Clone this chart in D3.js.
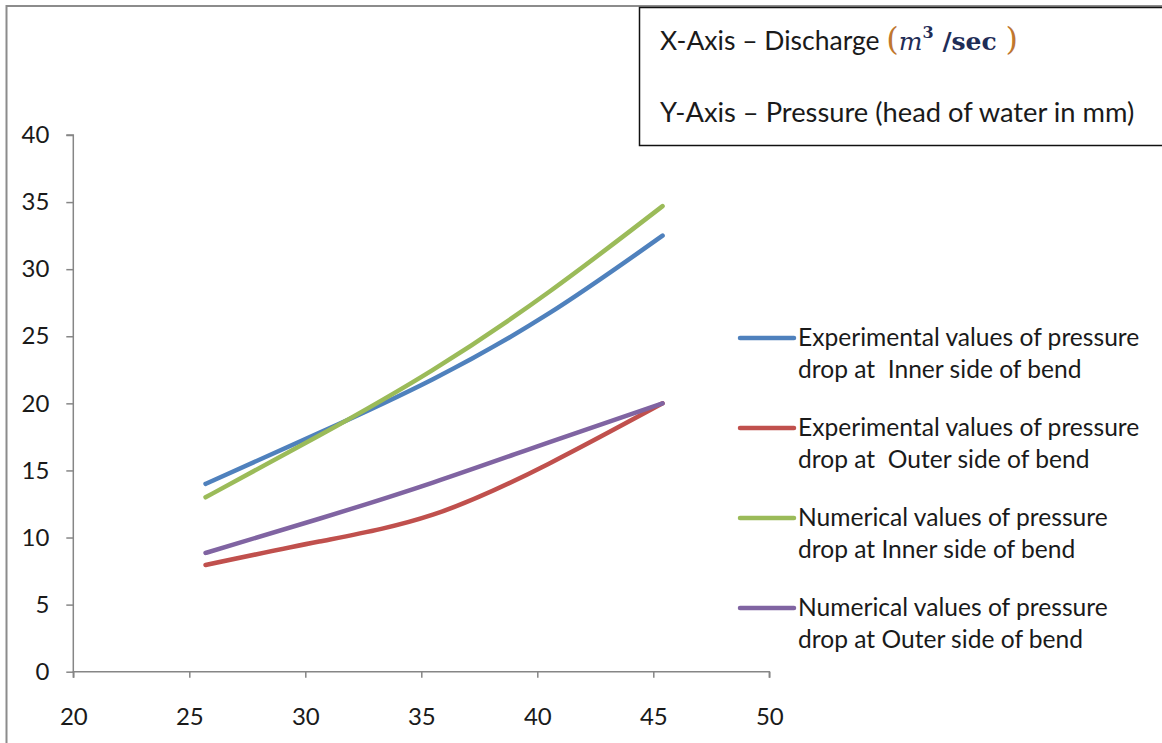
<!DOCTYPE html>
<html>
<head>
<meta charset="utf-8">
<script src="https://cdn.jsdelivr.net/npm/d3@7"></script>
<style>
  html, body { margin: 0; padding: 0; background: #fff; }
  svg { display: block; }
  text { font-family: "Lato", "Open Sans", sans-serif; fill: #1a1a1a; }
</style>
</head>
<body>
<svg id="chart" width="1162" height="743"></svg>
<script>
// Discharge values (m^3/sec) at which pressure was recorded
const discharge = [25.7, 30.6, 35.5, 40.5, 45.4];

// Pressure (head of water in mm) for each series
const expInner = [14.0, 17.8, 21.8, 26.7, 32.5];
const expOuter = [7.95, 9.7, 11.7, 15.5, 20.0];
const numInner = [13.0, 17.6, 22.5, 28.3, 34.7];
const numOuter = [8.85, 11.4, 14.1, 17.1, 20.0];

const seriesNames = [
  ["Experimental values of pressure", "drop at  Inner side of bend"],
  ["Experimental values of pressure", "drop at  Outer side of bend"],
  ["Numerical values of pressure", "drop at Inner side of bend"],
  ["Numerical values of pressure", "drop at Outer side of bend"]
];
const seriesColors = ["#4F81BD", "#C0504D", "#9BBB59", "#8064A2"];

const xTicks = [20, 25, 30, 35, 40, 45, 50];
const yTicks = [0, 5, 10, 15, 20, 25, 30, 35, 40];

const series = [expInner, expOuter, numInner, numOuter].map((vals, i) => ({
  name: seriesNames[i],
  color: seriesColors[i],
  points: vals.map((v, j) => ({ x: discharge[j], y: v }))
}));

const svg = d3.select("#chart");

// Outer frame of the figure
svg.append("rect")
  .attr("x", 6.5).attr("y", 6).attr("width", 1200).attr("height", 800)
  .attr("fill", "none").attr("stroke", "#8c8c8c").attr("stroke-width", 2);

const x = d3.scaleLinear().domain([20, 50]).range([73.3, 769.3]);
const y = d3.scaleLinear().domain([0, 40]).range([671.7, 135]);

const axisColor = "#868686";

// Y axis
const yAxis = svg.append("g")
  .attr("transform", `translate(${x(20)},0)`)
  .call(d3.axisLeft(y).tickValues(yTicks).tickSize(7).tickPadding(17).tickFormat(d3.format("d")));
// X axis
const xAxis = svg.append("g")
  .attr("transform", `translate(0,${y(0)})`)
  .call(d3.axisBottom(x).tickValues(xTicks).tickSize(6).tickPadding(30).tickFormat(d3.format("d")));

[yAxis, xAxis].forEach(g => {
  g.select(".domain").attr("stroke", axisColor).attr("stroke-width", 1.5);
  g.selectAll(".tick line").attr("stroke", axisColor).attr("stroke-width", 1.5);
  g.selectAll(".tick text")
    .attr("font-family", "Lato, 'Open Sans', sans-serif")
    .attr("font-size", 24).attr("fill", "#1a1a1a");
});
// Axis domain without outer end caps
yAxis.select(".domain").attr("d", `M-7,${y(40)}H0V${y(0)}`);
xAxis.select(".domain").attr("d", `M${x(20)},6V0H${x(50)}V6`);

// Smoothed series lines
const line = d3.line()
  .x(d => x(d.x)).y(d => y(d.y))
  .curve(d3.curveNatural);

svg.append("g").selectAll("path")
  .data(series)
  .join("path")
  .attr("d", d => line(d.points))
  .attr("fill", "none")
  .attr("stroke", d => d.color)
  .attr("stroke-width", 4.5)
  .attr("stroke-linecap", "round")
  .attr("stroke-linejoin", "round");

// Legend
const legend = svg.append("g");
const legendTop = 338, legendStep = 90;
series.forEach((s, i) => {
  const ly = legendTop + i * legendStep;
  legend.append("line")
    .attr("x1", 740).attr("x2", 794).attr("y1", ly).attr("y2", ly)
    .attr("stroke", s.color).attr("stroke-width", 4.5).attr("stroke-linecap", "round");
  s.name.forEach((t, k) => {
    legend.append("text")
      .attr("x", 798).attr("y", ly + 8 + k * 32)
      .attr("font-size", 24.6)
      .attr("xml:space", "preserve")
      .style("white-space", "pre")
      .text(t);
  });
});

// Axis description box
const box = svg.append("g");
box.append("rect")
  .attr("x", 639.5).attr("y", 7.5).attr("width", 600).attr("height", 138)
  .attr("fill", "#fff").attr("stroke", "#111").attr("stroke-width", 1.5);

const l1 = box.append("text").attr("x", 660).attr("y", 50).attr("font-size", 26.5);
l1.append("tspan").text("X-Axis – Discharge ");
l1.append("tspan").attr("fill", "#C0772F").attr("font-family", "'DejaVu Serif', serif").attr("font-size", 32).text("(");
l1.append("tspan").attr("fill", "#1F2D57").attr("font-family", "'DejaVu Serif', serif").attr("font-style", "italic").attr("font-size", 25).text("m");
l1.append("tspan").attr("fill", "#1F2D57").attr("font-family", "'DejaVu Serif', serif").attr("font-weight", "bold").attr("font-size", 16).attr("dy", -12).text("3");
l1.append("tspan").attr("fill", "#1F2D57").attr("font-family", "'DejaVu Serif', serif").attr("font-weight", "bold").attr("font-size", 25).attr("dy", 12).text(" /sec ");
l1.append("tspan").attr("fill", "#C0772F").attr("font-family", "'DejaVu Serif', serif").attr("font-size", 32).text(")");

box.append("text").attr("x", 660).attr("y", 122).attr("font-size", 27.3)
  .text("Y-Axis – Pressure (head of water in mm)");
</script>
</body>
</html>
